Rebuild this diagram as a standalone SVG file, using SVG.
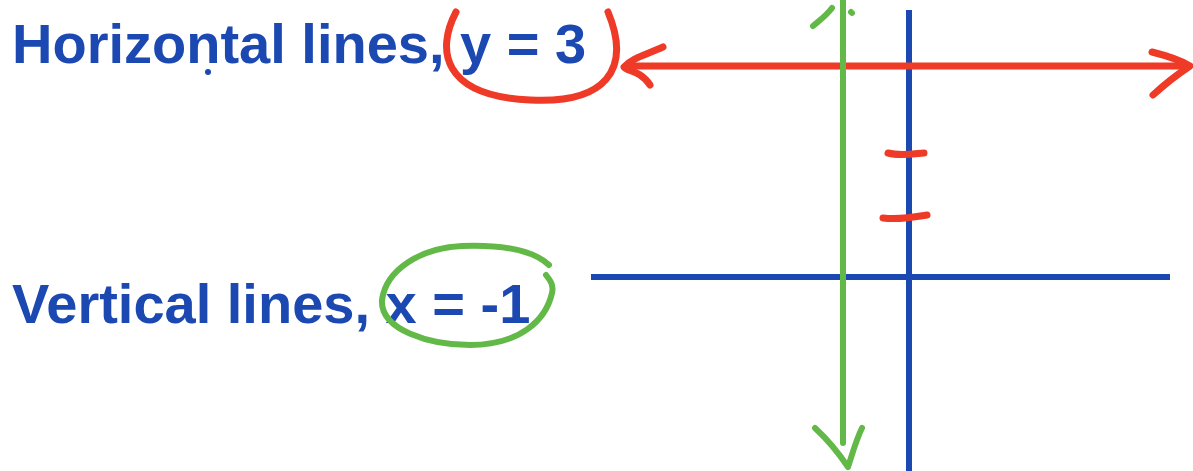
<svg xmlns="http://www.w3.org/2000/svg" width="1193" height="471" viewBox="0 0 1193 471">
<style>
.lbl{font-family:"Liberation Sans",Arial,sans-serif;font-weight:bold;font-size:56px;fill:#1b48b1}
.blue{stroke:#1b48b1;stroke-width:6;fill:none}
.red{stroke:#ee3a27;stroke-width:7;fill:none;stroke-linecap:round;stroke-linejoin:round}
.green{stroke:#63b947;stroke-width:6;fill:none;stroke-linecap:round;stroke-linejoin:round}
</style>
<rect width="1193" height="471" fill="#ffffff"/>
<g id="label-horizontal">
<text class="lbl" x="12" y="63">Horizontal lines, y = 3</text>
<circle cx="208" cy="72" r="3" fill="#1b48b1"/>
<path class="red" d="M456 12 C436 50 442 96 530 100 C605 104 632 70 608 12"/>
</g>
<g id="label-vertical">
<text class="lbl" x="12" y="323">Vertical lines, x = -1</text>
<path class="green" d="M549 265 C530 247 490 245 462 246 C420 248 386 270 382 300 C380 330 430 345 470 345 C520 345 546 320 552 293 C554 285 550 280 546 275"/>
</g>
<g id="axes">
<line class="blue" x1="909" y1="10" x2="909" y2="471"/>
<line class="blue" x1="591" y1="277" x2="1170" y2="277"/>
<path class="red" d="M888 153 C900 156 912 154 924 153" stroke-width="8"/>
<path class="red" d="M883 218 C900 220 915 217 927 215" stroke-width="8"/>
</g>
<g id="connectors">
<g id="line-y3">
<line class="red" x1="626" y1="66" x2="1188" y2="66" stroke-linecap="butt" stroke-width="6"/>
<path class="red" d="M663 47 C645 55 632 58 624 67 C628 72 640 70 650 85"/>
<path class="red" d="M1152 52 C1168 56 1180 60 1190 66 C1175 76 1165 84 1153 95"/>
</g>
<g id="line-xm1">
<line class="green" x1="843" y1="0" x2="843" y2="443" stroke-linecap="butt"/>
<path class="green" d="M813 26 C820 20 826 16 832 8"/>
<path class="green" d="M851 12 L852 13"/>
<path class="green" d="M815 428 C828 440 840 455 848 467 C852 455 856 440 862 428"/>
</g>
</g>
</svg>
